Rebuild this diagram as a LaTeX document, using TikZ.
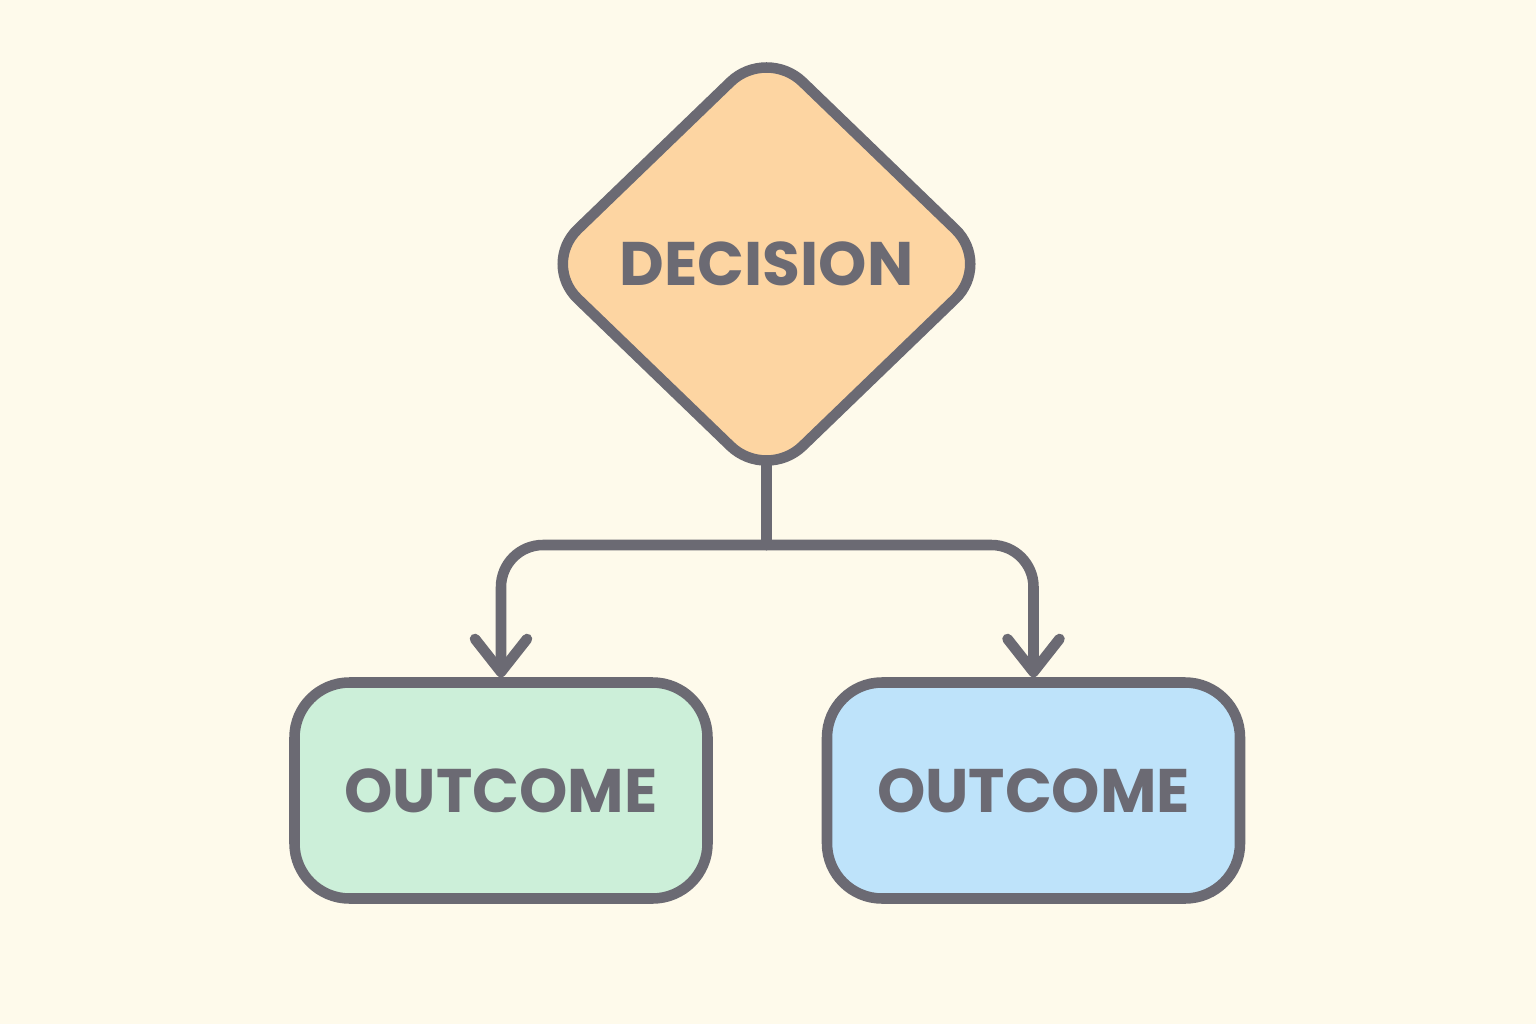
\documentclass[tikz,border=0pt]{standalone}
\usepackage{fontspec}
\setmainfont{Poppins}
\usetikzlibrary{shapes.geometric,arrows.meta,backgrounds}

\definecolor{bgcol}{HTML}{FEFAEB}
\definecolor{edgecol}{HTML}{6B6A73}
\definecolor{deccol}{HTML}{FDD5A2}
\definecolor{greencol}{HTML}{CCEFD9}
\definecolor{bluecol}{HTML}{BEE3FA}

\tikzset{
  decision/.style={diamond,draw=edgecol,line width=3pt,fill=deccol,
    minimum width=4.54cm,minimum height=4.38cm,inner sep=0pt,
    rounded corners=0.5cm,text=edgecol,font=\bfseries\fontsize{17.5}{20}\selectfont},
  outcome/.style={rectangle,draw=edgecol,line width=3pt,
    minimum width=4.13cm,minimum height=2.16cm,inner sep=0pt,
    rounded corners=0.55cm,text=edgecol,font=\bfseries\fontsize{17.5}{20}\selectfont},
  conn/.style={draw=edgecol,line width=3pt,line cap=round},
  branch/.style={conn,rounded corners=0.42cm,
    -{Straight Barb[length=0.33cm,width=0.52cm,round]}}
}

\begin{document}
\begin{tikzpicture}
  \useasboundingbox (0,0) rectangle (15.36,10.24);
  \node[decision] (dec) at (7.665,7.6) {DECISION};
  \node[outcome,fill=greencol] (lout) at (5.01,2.335) {OUTCOME};
  \node[outcome,fill=bluecol] (rout) at (10.335,2.335) {OUTCOME};
  \coordinate (split) at (7.665,4.79);
  \begin{scope}[on background layer]
    \fill[bgcol] (0,0) rectangle (15.36,10.24);
    \draw[conn] (dec.center) -- (split);
  \end{scope}
  \draw[branch] (split) -| (lout.north);
  \draw[branch] (split) -| (rout.north);
\end{tikzpicture}
\end{document}
